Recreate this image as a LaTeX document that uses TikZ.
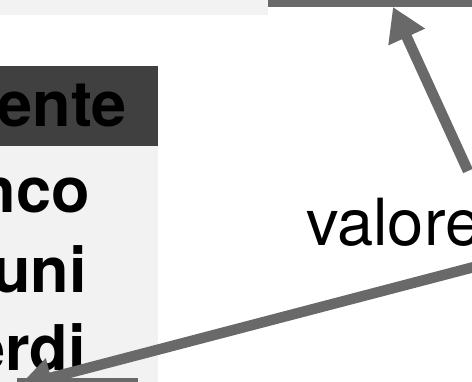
\documentclass[tikz,border=0pt]{standalone}
\usepackage{fontspec}
\setmainfont{TeX Gyre Heros}
\usetikzlibrary{arrows.meta}
\definecolor{arrgray}{HTML}{696969}
\definecolor{hdrgray}{HTML}{404040}
\definecolor{rowgray}{HTML}{F2F2F2}
\begin{document}
\begin{tikzpicture}[x=1pt,y=-1pt,
  conn/.style={draw=arrgray,line width=10.5pt,-{Triangle[length=33pt,width=38pt]}},
  boxline/.style={draw=arrgray,line width=7pt},
  celltext/.style={font=\fontsize{63}{63}\selectfont\bfseries,anchor=base east,inner sep=0pt,text=black},
  lbltext/.style={font=\fontsize{65}{65}\selectfont,anchor=base west,inner sep=0pt,text=black}]
\useasboundingbox (0,0) rectangle (472,381);
\clip (0,0) rectangle (472,381);
% top-left band and top-right box
\fill[rowgray] (-10,-10) rectangle (268,14.7);
\draw[boxline,fill=white] (271.5,-60) rectangle (540,3.8);
% table
\fill[hdrgray] (-10,66) rectangle (158,146);
\fill[rowgray] (-10,146) rectangle (158,400);
\node[celltext] (hdr) at (127,126) {ente};
\node[celltext] (r1) at (90,212) {nco};
\node[celltext] (r2) at (87,292) {uni};
\node[celltext] (r3) at (86,370) {erdi};
% bottom box
\draw[boxline] (20.5,381.5) rectangle (134.5,430);
% label
\node[lbltext] (lbl) at (306,245) {valore};
\coordinate (s1) at (468,171);
\coordinate (t1) at (393,7);
\coordinate (s2) at (476,266.5);
\coordinate (t2) at (19,386);
\draw[conn] (s1) -- (t1);
\draw[conn] (s2) -- (t2);
\end{tikzpicture}
\end{document}
